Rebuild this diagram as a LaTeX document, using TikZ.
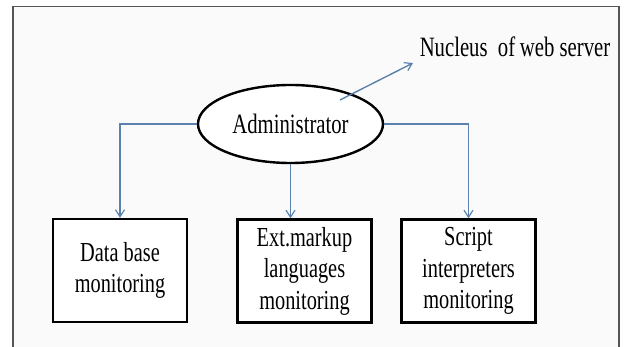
\documentclass[tikz,border=0pt]{standalone}
\usepackage{fontspec}
\setmainfont[FakeStretch=0.74]{Liberation Serif}
\usetikzlibrary{shapes.geometric,arrows.meta}
\definecolor{conn}{HTML}{5B82AD}
\definecolor{framec}{HTML}{555555}
\definecolor{bgc}{HTML}{FAFAFA}
\tikzset{
  boxnode/.style={draw=black,line width=2.4pt,fill=white,minimum width=134pt,minimum height=103pt,inner sep=0pt,align=center,font=\fontsize{27.5}{31.5}\selectfont},
  ellnode/.style={ellipse,draw=black,line width=2.4pt,fill=white,minimum width=185pt,minimum height=78pt,inner sep=0pt,font=\fontsize{28}{30}\selectfont},
  connector/.style={draw=conn,line width=1.4pt,-{Straight Barb[length=7pt,width=9pt,line width=1.2pt]}},
  labeltext/.style={font=\fontsize{28}{30}\selectfont,inner sep=0pt}
}
\begin{document}
\begin{tikzpicture}[x=1pt,y=-1pt]
\useasboundingbox (0,0) rectangle (624,347);
\fill[white] (0,0) rectangle (624,347);
\fill[bgc] (13,6.5) rectangle (619,347);
\draw[framec,line width=1.5pt] (13,347) -- (13,6.5) -- (619,6.5) -- (619,347);
\node[ellnode] (adm) at (290.5,124) {Administrator};
\node[boxnode] (db) at (120,270.5) {Data base\\monitoring};
\node[boxnode] (ext) at (304.5,271) {Ext.markup\\languages\\monitoring};
\node[boxnode] (scr) at (468.5,271) {Script\\interpreters\\monitoring};
\node[labeltext] (nuc) at (515,47) {Nucleus\ \ of\,web server};
\coordinate (nstart) at (340,100);
\coordinate (ntip) at (413,63);
\draw[connector] (adm.west) -| (db.north);
\draw[connector] (adm.east) -| (scr.north);
\draw[connector] (adm.south) -- (adm.south |- ext.north);
\draw[connector] (nstart) -- (ntip);
\end{tikzpicture}
\end{document}
